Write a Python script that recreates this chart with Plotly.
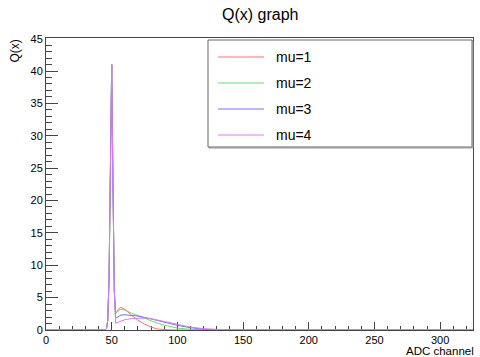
import plotly.graph_objects as go

# ---- data ----
adc = [0, 45, 46, 47, 48, 49, 50, 51, 52, 53, 55, 57, 60, 65, 70, 75, 80, 85,
       90, 95, 100, 110, 120, 130, 140, 150, 160, 325]
q_mu1 = [0, 0, 0.2, 1.5, 8, 28, 41, 22, 6, 2.5, 3.2, 3.5, 3.2, 2.3, 1.5, 0.9,
         0.45, 0.15, 0.05, 0.02, 0, 0, 0, 0, 0, 0, 0, 0]
q_mu2 = [0, 0, 0.2, 1.5, 8, 28, 41, 22, 6, 2.6, 3.0, 3.2, 3.1, 2.6, 2.2, 1.8,
         1.4, 1.05, 0.75, 0.5, 0.3, 0.1, 0.02, 0, 0, 0, 0, 0]
q_mu3 = [0, 0, 0.2, 1.5, 8, 28, 41, 22, 6, 1.8, 2.1, 2.3, 2.35, 2.3, 2.15, 1.95,
         1.7, 1.45, 1.2, 0.95, 0.72, 0.35, 0.12, 0.03, 0, 0, 0, 0]
q_mu4 = [0, 0, 0.2, 1.5, 8, 28, 41, 22, 6, 1.05, 1.2, 1.4, 1.6, 1.75, 1.85, 1.85,
         1.75, 1.55, 1.35, 1.1, 0.85, 0.45, 0.2, 0.06, 0.01, 0, 0, 0]
series_names = ["mu=1", "mu=2", "mu=3", "mu=4"]
series_values = [q_mu1, q_mu2, q_mu3, q_mu4]
series_colors = ["#ff7070", "#66e066", "#7070ff", "#d87ef0"]

FONT = "Liberation Sans, Arial, Helvetica, sans-serif"

W, H = 480, 357
L, R, T, B = 46, 7, 38, 27
PW, PH = W - L - R, H - T - B


def px_x(p):
    return (p - L) / PW


def px_y(p):
    return (H - B - p) / PH


fig = go.Figure()
for name, vals, col in zip(series_names, series_values, series_colors):
    fig.add_trace(go.Scatter(x=adc, y=vals, mode="lines", name=name,
                             line=dict(color=col, width=1), showlegend=False))

AX = "#444"
fig.update_layout(
    width=W, height=H,
    margin=dict(l=L, r=R, t=T, b=B),
    paper_bgcolor="white", plot_bgcolor="white",
    font=dict(family=FONT, color="black", size=11),
    xaxis=dict(range=[0, 325], tick0=0, dtick=50, ticks="inside", ticklen=8,
               tickcolor=AX, showline=True, linecolor=AX, linewidth=1,
               mirror=True, showgrid=False, zeroline=False, layer="below traces",
               minor=dict(dtick=10, ticks="inside", ticklen=4, tickcolor=AX),
               tickfont=dict(size=11)),
    yaxis=dict(range=[0, 45.1], tick0=0, dtick=5, ticks="inside", ticklen=12,
               tickcolor=AX, showline=True, linecolor=AX, linewidth=1,
               mirror=True, showgrid=False, zeroline=False, layer="below traces",
               minor=dict(dtick=1, ticks="inside", ticklen=6, tickcolor=AX),
               tickfont=dict(size=11)),
)

# title and axis titles
fig.add_annotation(text="Q(x) graph", xref="paper", yref="paper", x=0.5, y=1,
                   yshift=24, showarrow=False, yanchor="middle",
                   font=dict(size=16, family=FONT))
fig.add_annotation(text="ADC channel", xref="paper", yref="paper", x=1, y=0,
                   xshift=3, yshift=-21, xanchor="right", yanchor="middle",
                   showarrow=False, font=dict(size=11.5, family=FONT))
fig.add_annotation(text="Q(x)", xref="paper", yref="paper", x=0, y=1,
                   xshift=-32, xanchor="center", yanchor="top", textangle=-90,
                   showarrow=False, font=dict(size=12, family=FONT))

# legend box (ROOT style)
fig.add_shape(type="rect", xref="paper", yref="paper",
              x0=px_x(209), x1=px_x(473), y0=px_y(148), y1=px_y(41),
              line=dict(color="#999", width=1), fillcolor="rgba(0,0,0,0)")
fig.add_shape(type="rect", xref="paper", yref="paper",
              x0=px_x(208), x1=px_x(472), y0=px_y(147), y1=px_y(40),
              line=dict(color="#666", width=1), fillcolor="white")
entry_y = [57, 83, 109, 135]
for name, col, ey in zip(series_names, series_colors, entry_y):
    fig.add_shape(type="line", xref="paper", yref="paper",
                  x0=px_x(218), x1=px_x(264), y0=px_y(ey), y1=px_y(ey),
                  line=dict(color=col, width=1))
    fig.add_annotation(text=name, xref="paper", yref="paper", x=px_x(274),
                       y=px_y(ey), xanchor="left", yanchor="middle",
                       showarrow=False, font=dict(size=14, family=FONT))

fig.write_html("out.html",
               config={"displayModeBar": False},
               post_script="document.body.style.margin='0';"
                           "document.body.style.overflow='hidden';")
